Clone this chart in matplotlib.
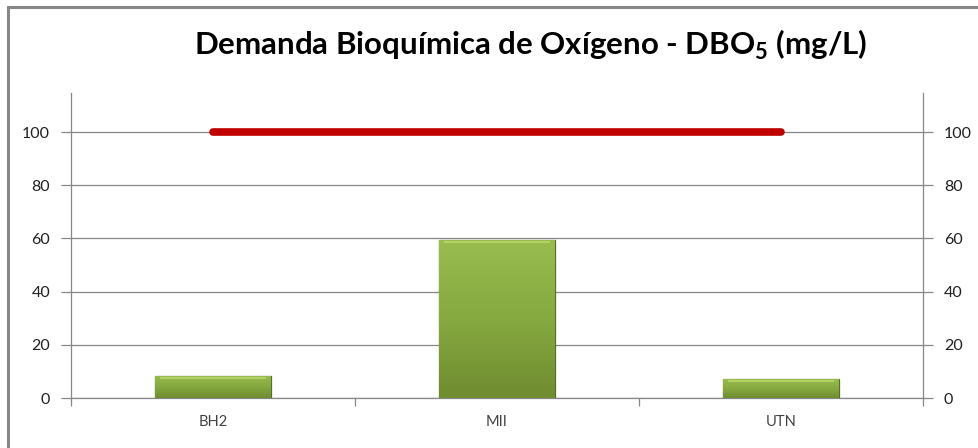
import matplotlib
matplotlib.use("Agg")
import matplotlib.pyplot as plt
import numpy as np
from matplotlib.patches import Rectangle
from matplotlib.colors import LinearSegmentedColormap

categories = ["BH2", "MII", "UTN"]
dbo_values = [8.3, 59.4, 7.1]
limit_values = [100, 100, 100]
y_ticks = [0, 20, 40, 60, 80, 100]

plt.rcParams['font.family'] = ['Lato', 'DejaVu Sans']
plt.rcParams['mathtext.fontset'] = 'custom'
plt.rcParams['mathtext.rm'] = 'Lato'
plt.rcParams['mathtext.bf'] = 'Lato:bold'

W, H = 979, 448
fig = plt.figure(figsize=(W/100, H/100), dpi=100)
fig.patch.set_facecolor('white')

# outer chart border (extends past right/bottom edges)
fig.patches.append(Rectangle((8/W, -0.05), 1.2, 1 - 7/H + 0.05, transform=fig.transFigure,
                             fill=False, edgecolor='#878787', linewidth=2.2))

left, right = 71/W, 923/W
bottom, top = 1 - 398/H, 1 - 93/H
ax = fig.add_axes([left, bottom, right - left, top - bottom])
ax.set_xlim(-0.5, 2.5)
ax.set_ylim(0, 114.7)

x = np.arange(len(categories))
bars = ax.bar(x, dbo_values, width=0.405, color='#8DB13F', edgecolor='#566F22',
              linewidth=0.9, zorder=3)

# gradient fill for bars
cmap = LinearSegmentedColormap.from_list('g', ['#6F8C30', '#86A940', '#98BC4E'])
grad = np.linspace(0, 1, 256).reshape(-1, 1)
for b in bars:
    bx, by, bw, bh = b.get_x(), b.get_y(), b.get_width(), b.get_height()
    im = ax.imshow(grad, extent=[bx, bx + bw, by, by + bh], origin='lower',
                   cmap=cmap, aspect='auto', zorder=3.5)
    im.set_clip_path(b)
    ax.plot([bx + bw*0.04, bx + bw*0.96], [by + bh - 0.8, by + bh - 0.8],
            color='#B3D167', linewidth=1.5, zorder=4, solid_capstyle='butt')

ax.plot(x, limit_values, color='#C00000', linewidth=5.5, solid_capstyle='round', zorder=5)

ax.set_yticks(y_ticks)
ax.yaxis.grid(True, color='#878787', linewidth=0.9)
ax.set_axisbelow(True)
ax.set_xticks(x)
ax.set_xticklabels(categories, fontsize=10.5, color='#404040')
ax.set_xticks([-0.5, 0.5, 1.5, 2.5], minor=True)
ax.tick_params(axis='x', which='major', length=0, pad=12)
ax.tick_params(axis='x', which='minor', length=6, color='#878787', width=0.9)
ax.tick_params(axis='y', which='major', length=7, color='#878787', width=0.9,
               labelsize=11.5, labelcolor='#202020', pad=8, left=True, right=True,
               labelleft=True, labelright=True)
ax.set_yticklabels([str(v) for v in y_ticks])
ax.spines['top'].set_visible(False)
for s in ['left', 'right', 'bottom']:
    ax.spines[s].set_color('#878787')
    ax.spines[s].set_linewidth(0.9)

fig.text(531/W, 1 - 45/H, 'Demanda Bioquímica de Oxígeno - DBO$_\\mathregular{5}$ (mg/L)',
         ha='center', va='center', fontsize=22.5, fontweight='bold', color='black')

fig.savefig('out.png', dpi=100)
